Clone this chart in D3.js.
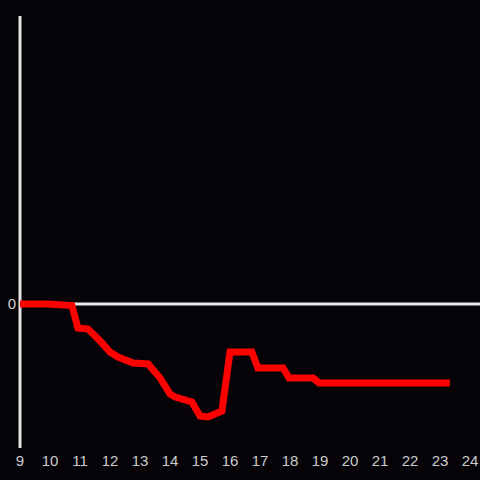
<!DOCTYPE html>
<html>
<head>
<meta charset="utf-8">
<script src="https://cdn.jsdelivr.net/npm/d3@7"></script>
<style>
  html, body { margin: 0; padding: 0; background: #050308; }
  text { font-family: "Liberation Sans", Arial, sans-serif; }
</style>
</head>
<body>
<script>
// hour of day
var hours = [9.0, 9.93, 10.73, 10.93, 11.27, 11.67, 12.0, 12.27, 12.77, 13.27,
  13.67, 14.0, 14.17, 14.73, 15.0, 15.27, 15.73, 16.0, 16.73, 16.93,
  17.77, 17.97, 18.77, 18.97, 23.33];
// value
var values = [0, 0, -0.015, -0.24, -0.25, -0.37, -0.48, -0.53, -0.59, -0.60,
  -0.74, -0.90, -0.93, -0.98, -1.12, -1.13, -1.07, -0.48, -0.48, -0.64,
  -0.64, -0.74, -0.74, -0.79, -0.79];
var xTicks = d3.range(9, 25);
var yTicks = [0];

var width = 480, height = 480;
var margin = { top: 16, right: 10, bottom: 32, left: 20 };

var svg = d3.select("body").append("svg")
  .attr("width", width).attr("height", height)
  .style("display", "block");

svg.append("rect").attr("width", width).attr("height", height).attr("fill", "#050308");

var x = d3.scaleLinear().domain([9, 24]).range([margin.left, width - margin.right]);
var y = d3.scaleLinear().domain([-1.44, 2.88]).range([height - margin.bottom, margin.top]);

// zero line
svg.append("line")
  .attr("x1", margin.left).attr("x2", width)
  .attr("y1", y(0)).attr("y2", y(0))
  .attr("stroke", "#e6e6e6").attr("stroke-width", 3);

// y axis line
svg.append("line")
  .attr("x1", margin.left).attr("x2", margin.left)
  .attr("y1", margin.top).attr("y2", height - margin.bottom)
  .attr("stroke", "#e6e6e6").attr("stroke-width", 3);

svg.selectAll(".ylab").data(yTicks).enter().append("text")
  .attr("class", "ylab")
  .attr("x", margin.left - 4).attr("y", function(d) { return y(d); })
  .attr("dy", "0.36em").attr("text-anchor", "end")
  .attr("fill", "#cccccc").attr("font-size", 15)
  .text(function(d) { return d; });

svg.selectAll(".xlab").data(xTicks).enter().append("text")
  .attr("class", "xlab")
  .attr("x", function(d) { return x(d); }).attr("y", 466)
  .attr("text-anchor", "middle")
  .attr("fill", "#cccccc").attr("font-size", 15)
  .text(function(d) { return d; });

var line = d3.line()
  .x(function(d, i) { return x(hours[i]); })
  .y(function(d) { return y(d); });

svg.append("path")
  .datum(values)
  .attr("d", line)
  .attr("fill", "none")
  .attr("stroke", "#ff0000")
  .attr("stroke-width", 7)
  .attr("stroke-linejoin", "miter");
</script>
</body>
</html>
